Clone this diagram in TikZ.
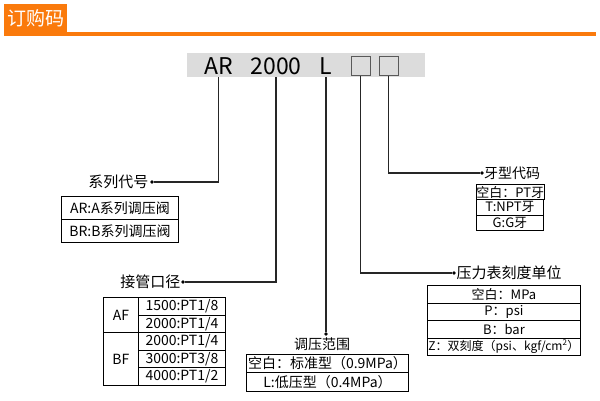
\documentclass[tikz,border=0pt]{standalone}
\usepackage{fontspec}
\setmainfont{Noto Sans CJK SC}
\definecolor{hdr}{RGB}{250,122,12}
\definecolor{bargray}{RGB}{220,220,220}
\tikzset{
 conn/.style={line width=1.2pt, draw=black!85},
 pdot/.style={circle, fill=black, inner sep=0pt, minimum size=3.6pt},
 cell/.style={draw, line width=0.9pt, inner sep=0pt, anchor=north west, font=\fontsize{14}{14}\selectfont},
 lbl/.style={inner sep=0pt, font=\fontsize{15}{15}\selectfont},
 code/.style={inner sep=0pt, font=\fontsize{23}{23}\selectfont},
 slot/.style={draw=black!65, line width=0.9pt, fill=bargray, minimum width=19pt, minimum height=19pt, inner sep=0pt},
}
\begin{document}
\begin{tikzpicture}[x=1pt,y=-1pt]
\useasboundingbox (0,0) rectangle (600,400);
% header
\fill[hdr] (4,4) rectangle (67,33);
\fill[hdr] (4,31.5) rectangle (596,35.5);
\node[inner sep=0pt, text=white, font=\fontsize{19}{19}\selectfont] (title) at (35.5,18.5) {订购码};
% code bar
\node[fill=bargray, minimum width=238pt, minimum height=24pt, inner sep=0pt, anchor=north west] (bar) at (187,53) {};
\node[code] (ar) at (218.5,66.5) {AR};
\node[code] (num) at (276,66.5) {2000};
\node[code] (lt) at (326,66.5) {L};
\node[slot] (b1) at (360.5,66) {};
\node[slot] (b2) at (388.5,66) {};
% dots
\node[pdot] (d1) at (152,182) {};
\node[pdot] (d2) at (183,282) {};
\node[pdot] (d3) at (326,334) {};
\node[pdot] (d4) at (454,273) {};
\node[pdot] (d5) at (482,173) {};
% labels
\node[lbl, anchor=east] (l1) at (148.5,182) {系列代号};
\node[lbl, anchor=east] (l2) at (180.5,282) {接管口径};
\node[lbl, anchor=north, font=\fontsize{14}{14}\selectfont] (l3) at (322,338) {调压范围};
\node[lbl, anchor=west] (l4) at (456.5,273) {压力表刻度单位};
\node[lbl, anchor=west, font=\fontsize{14}{14}\selectfont] (l5) at (484,173) {牙型代码};
% connectors
\draw[conn] (ar |- bar.south) |- (d1);
\draw[conn] (num |- bar.south) |- (d2);
\draw[conn] (lt |- bar.south) -- (d3);
\draw[conn] (b1.south) |- (d4);
\draw[conn] (b2.south) |- (d5);
% table 1
\node[cell, minimum width=117pt, minimum height=23pt] (s1) at (61,196) {AR:A系列调压阀};
\node[cell, minimum width=117pt, minimum height=23pt] (s2) at (61,219) {BR:B系列调压阀};
% table 2
\node[cell, minimum width=35pt, minimum height=35.2pt] (af) at (103,297) {AF};
\node[cell, minimum width=35pt, minimum height=52.8pt] (bf) at (103,332.2) {BF};
\node[cell, minimum width=87pt, minimum height=17.6pt] (p1) at (138,297) {1500:PT1/8};
\node[cell, minimum width=87pt, minimum height=17.6pt] (p2) at (138,314.6) {2000:PT1/4};
\node[cell, minimum width=87pt, minimum height=17.6pt] (p3) at (138,332.2) {2000:PT1/4};
\node[cell, minimum width=87pt, minimum height=17.6pt] (p4) at (138,349.8) {3000:PT3/8};
\node[cell, minimum width=87pt, minimum height=17.6pt] (p5) at (138,367.4) {4000:PT1/2};
% table 3
\node[cell, minimum width=162pt, minimum height=18pt] (r1) at (246,354) {空白：标准型（0.9MPa）};
\node[cell, minimum width=162pt, minimum height=19pt] (r2) at (246,372) {L:低压型（0.4MPa）};
% table 4
\node[cell, minimum width=153pt, minimum height=17.5pt, font=\fontsize{13}{13}\selectfont] (g1) at (427,285) {空白：MPa};
\node[cell, minimum width=153pt, minimum height=17.5pt, font=\fontsize{13}{13}\selectfont] (g2) at (427,302.5) {P：psi};
\node[cell, minimum width=153pt, minimum height=17.5pt, font=\fontsize{13}{13}\selectfont] (g3) at (427,320) {B：bar};
\node[cell, minimum width=153pt, minimum height=17.5pt, font=\fontsize{12}{12}\selectfont] (g4) at (427,337.5) {Z：双刻度（psi、kgf/cm\textsuperscript{2}）};
% table 5
\node[cell, minimum width=67pt, minimum height=15.3pt, font=\fontsize{13}{13}\selectfont] (t1) at (476,184) {空白：PT牙};
\node[cell, minimum width=67pt, minimum height=15.3pt, font=\fontsize{13}{13}\selectfont] (t2) at (476,199.3) {T:NPT牙};
\node[cell, minimum width=67pt, minimum height=15.3pt, font=\fontsize{13}{13}\selectfont] (t3) at (476,214.6) {G:G牙};
\end{tikzpicture}
\end{document}
